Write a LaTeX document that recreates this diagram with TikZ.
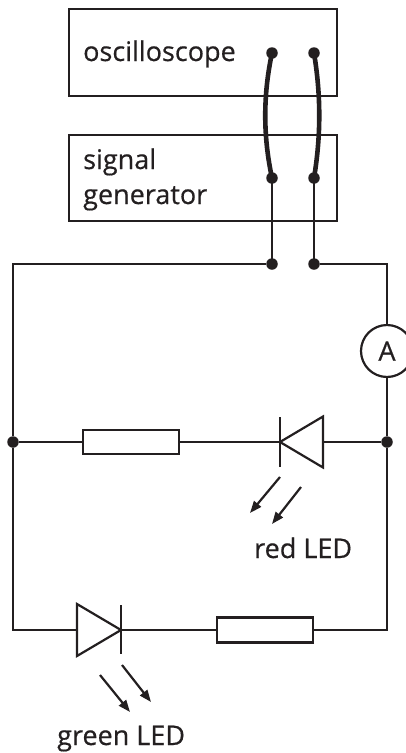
\documentclass[tikz,border=0pt]{standalone}
\usepackage{fontspec}
\setmainfont{Open Sans}
\newfontfamily\lblfont{Open Sans}[FakeBold=0.5]
\usetikzlibrary{arrows.meta}
\definecolor{ink}{HTML}{231F20}
\begin{document}
\begin{tikzpicture}[x=1pt,y=-1pt,
 wire/.style={draw=ink, line width=2.2pt},
 box/.style={draw=ink, line width=2.2pt, minimum width=268pt, minimum height=87pt, inner sep=0pt, anchor=north west},
 lbl/.style={text=ink, font=\lblfont\fontsize{27}{35}\selectfont, anchor=base west, inner sep=0pt},
 dot/.style={circle, fill=ink, inner sep=0pt, minimum size=11.5pt},
 res/.style={draw=ink, line width=2.2pt, fill=white, minimum width=96pt, minimum height=24pt, inner sep=0pt},
 lead/.style={draw=ink, line width=4.6pt},
 ray/.style={draw=ink, line width=2.2pt, -{Triangle[length=12pt,width=9pt]}},
 meter/.style={circle, draw=ink, line width=2.2pt, minimum size=52pt, inner sep=0pt, text=ink, font=\lblfont\fontsize{27}{27}\selectfont},
 ledshape/.style={draw=ink, line width=2.2pt, line join=miter}
]
\useasboundingbox (0,0) rectangle (406,753);

% instruments
\node[box] (osc) at (68,8) {};
\node[box, minimum height=86pt] (sg) at (68,134) {};
\node[lbl] (osct) at (83,61) {oscilloscope};
\node[lbl] (sgt1) at (83,169) {signal};
\node[lbl] (sgt2) at (83,204) {generator};

% terminals
\node[dot] (o1) at (272,53) {};
\node[dot] (o2) at (314,53) {};
\node[dot] (s1) at (272,178) {};
\node[dot] (s2) at (314,178) {};
\node[dot] (j1) at (272,264) {};
\node[dot] (j2) at (314,264) {};

% thick leads
\draw[lead] (o1.center) .. controls (263,95) and (263,136) .. (s1.center);
\draw[lead] (o2.center) .. controls (321,95) and (321,136) .. (s2.center);
\draw[wire] (s1.center) -- (j1.center);
\draw[wire] (s2.center) -- (j2.center);

% circuit corners and junctions
\coordinate (tl) at (13,264);
\coordinate (tr) at (387,264);
\node[dot] (ml) at (13,442) {};
\node[dot] (mr) at (387,442) {};
\coordinate (bl) at (13,630);
\coordinate (br) at (387,630);

% ammeter
\node[meter] (am) at (387,351) {A};

% resistors
\node[res] (r1) at (131,442) {};
\node[res, minimum height=25pt] (r2) at (265,630) {};

% red LED (pointing left)
\coordinate (rk) at (280,442);
\coordinate (ra) at (323,442);
\draw[ledshape] (323,416.5) -- (rk) -- (323,467.5) -- cycle;
\draw[wire] (280,417) -- (280,467);

% green LED (pointing right)
\coordinate (ga) at (77,630);
\coordinate (gk) at (121,630);
\draw[ledshape] (77,604) -- (gk) -- (77,656) -- cycle;
\draw[wire] (121,605) -- (121,654);

% wiring
\draw[wire] (j1) -- (tl) -- (ml);
\draw[wire] (j2) -- (tr) -- (am);
\draw[wire] (am) -- (mr);
\draw[wire] (ml) -- (r1);
\draw[wire] (r1) -- (rk);
\draw[wire] (ra) -- (mr);
\draw[wire] (ml) -- (bl) -- (ga);
\draw[wire] (gk) -- (r2);
\draw[wire] (r2) -- (br) -- (mr);

% light rays
\coordinate (rr1a) at (280,477);
\coordinate (rr1b) at (250,513);
\coordinate (rr2a) at (301,487);
\coordinate (rr2b) at (272,524);
\draw[ray] (rr1a) -- (rr1b);
\draw[ray] (rr2a) -- (rr2b);
\coordinate (gr1a) at (100,675);
\coordinate (gr1b) at (130,712);
\coordinate (gr2a) at (122,665);
\coordinate (gr2b) at (151,702);
\draw[ray] (gr1a) -- (gr1b);
\draw[ray] (gr2a) -- (gr2b);

% labels
\node[lbl] (redt) at (254,558) {red LED};
\node[lbl] (greent) at (57,745) {green LED};
\end{tikzpicture}
\end{document}
